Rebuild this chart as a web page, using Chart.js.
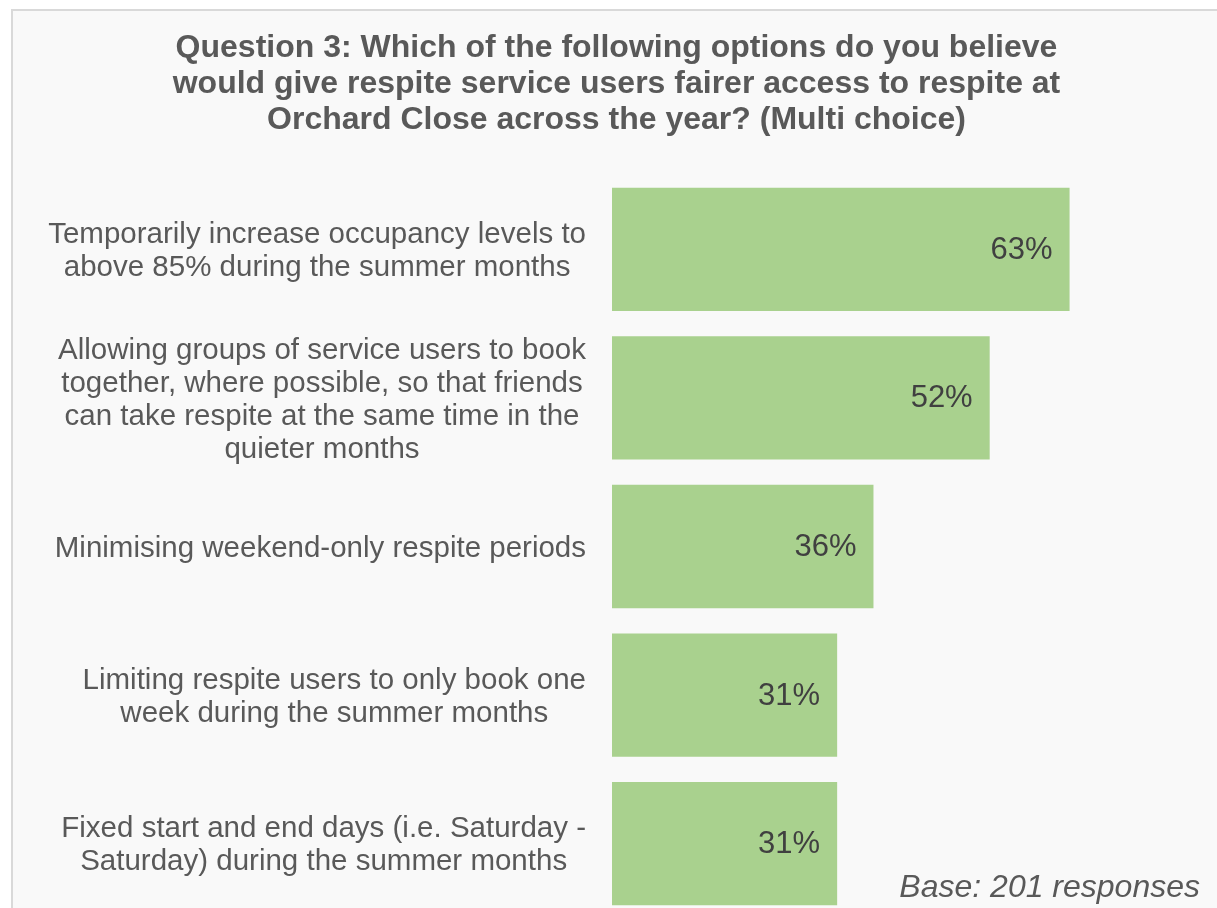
<!DOCTYPE html>
<html>
<head>
<meta charset="utf-8">
<script src="https://cdn.jsdelivr.net/npm/chart.js@4.4.1/dist/chart.umd.min.js"></script>
<style>
  html, body { margin: 0; padding: 0; background: #fff; overflow: hidden; }
  body { width: 1217px; height: 908px; position: relative; }
  .frame {
    position: absolute; left: 11px; top: 9px; width: 1300px; height: 1000px;
    border-left: 2px solid #d9d9d9; border-top: 2px solid #d9d9d9;
    background: #f9f9f9;
  }
  .chart-box { position: absolute; left: 0; top: 0; width: 1233px; height: 930px; }
  .base-note {
    position: absolute; right: 17px; top: 868px;
    font: italic 32px "Liberation Sans", Arial, sans-serif; color: #595959;
  }
</style>
</head>
<body>
<div class="frame"></div>
<div class="chart-box"><canvas id="q3Chart"></canvas></div>
<div class="base-note">Base: 201 responses</div>

<script>
// 질문 3 응답 데이터
const optionLabels = [
    ["Temporarily increase occupancy levels to", "above 85% during the summer months"],
    ["Allowing groups of service users to book", "together, where possible, so that friends", "can take respite at the same time in the", "quieter months"],
    ["Minimising weekend-only respite periods"],
    ["Limiting respite users to only book one", "week during the summer months"],
    ["Fixed start and end days (i.e. Saturday -", "Saturday) during the summer months"]
];
const optionPercents = [63, 52, 36, 31, 31];
const titleLines = [
    "Question 3: Which of the following options do you believe",
    "would give respite service users fairer access to respite at",
    "Orchard Close across the year? (Multi choice)"
];

const FONT = '"Liberation Sans", Arial, sans-serif';

/** 라벨: 오른쪽 정렬 블록 안에서 줄마다 가운데 정렬 */
const blockLabels = {
    id: "blockLabels",
    afterDraw(chart) {
        const ctx = chart.ctx;
        const yScale = chart.scales.y;
        const rightEdge = chart.chartArea.left - 26;
        const lineH = 33;
        ctx.save();
        ctx.font = "29.5px " + FONT;
        ctx.fillStyle = "#595959";
        ctx.textAlign = "center";
        ctx.textBaseline = "middle";
        optionLabels.forEach((lines, i) => {
            const widest = Math.max(...lines.map(l => ctx.measureText(l).width));
            const cx = rightEdge - widest / 2;
            const cy = yScale.getPixelForTick(i) + 2;
            const top = cy - (lines.length - 1) * lineH / 2;
            lines.forEach((l, j) => ctx.fillText(l, cx, top + j * lineH));
        });
        ctx.restore();
    }
};

/** 막대 안쪽 끝에 퍼센트 표시 */
const valueLabels = {
    id: "valueLabels",
    afterDatasetsDraw(chart) {
        const ctx = chart.ctx;
        const meta = chart.getDatasetMeta(0);
        ctx.save();
        ctx.font = "31px " + FONT;
        ctx.fillStyle = "#404040";
        ctx.textAlign = "right";
        ctx.textBaseline = "middle";
        meta.data.forEach((bar, i) => {
            ctx.fillText(optionPercents[i] + "%", bar.x - 17, bar.y + 1);
        });
        ctx.restore();
    }
};

new Chart(document.getElementById("q3Chart"), {
    type: "bar",
    data: {
        labels: optionLabels,
        datasets: [{
            data: optionPercents,
            backgroundColor: "#a9d18e",
            borderWidth: 0,
            barPercentage: 0.83,
            categoryPercentage: 1
        }]
    },
    options: {
        indexAxis: "y",
        responsive: true,
        maintainAspectRatio: false,
        animation: false,
        layout: { padding: { left: 0, right: 0, top: 0, bottom: 12 } },
        scales: {
            x: { display: false, min: 0, max: 85.5 },
            y: {
                ticks: { display: false },
                grid: { display: false },
                border: { display: false },
                afterFit(scale) { scale.width = 612; }
            }
        },
        plugins: {
            legend: { display: false },
            tooltip: { enabled: false },
            title: {
                display: true,
                text: titleLines,
                color: "#595959",
                font: { family: FONT, size: 32, weight: "bold", lineHeight: 36 / 32 },
                padding: { top: 30, bottom: 37 }
            }
        }
    },
    plugins: [blockLabels, valueLabels]
});
</script>
</body>
</html>
